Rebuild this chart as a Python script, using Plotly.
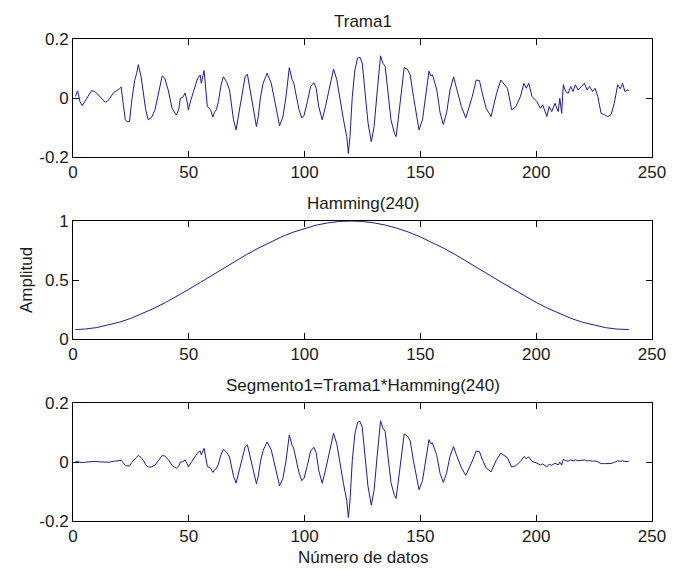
import plotly.graph_objects as go

# ---------------- data ----------------
trama_x = [1, 2, 3, 4, 5.5, 8, 9.5, 11.5, 14, 15.5, 17.5, 20, 20.8, 21.5, 22.6, 23.3, 24.4, 25.4, 26.6, 27.5,
           28.2, 29.4, 30.4, 31.4, 32.5, 34, 35.4, 36.8, 38.5, 39.6, 41.1, 42.8, 44.6, 45.6, 46.4, 47.4, 48.4, 49.3, 49.8, 50.9,
           52.3, 53.8, 54.9, 55.4, 56.6, 57.3, 58, 59.4, 60.4, 61.1, 61.9, 62.8, 63.8, 64.9, 66.3, 67.6, 68.6, 69.3, 70.4, 71.4,
           72.9, 74.3, 75.3, 76.4, 77.8, 79.2, 80, 80.9, 82.1, 83.8, 85.6, 87, 89.2, 90.6, 91.9, 93.4, 94.6, 95.2, 96.2, 97.6,
           98.8, 99.8, 101.2, 102.6, 104, 105, 106.1, 107.6, 109, 110.4, 112.5, 113.9, 115.3, 116.8, 118.2, 118.9, 119.6, 120.6, 121.7, 122.9,
           123.9, 124.9, 126, 127.4, 128.8, 130, 131.4, 132.4, 132.8, 133.8, 134.8, 135.9, 137.3, 138.8, 139.5, 140.4, 141.6, 143, 144.4, 145.6,
           147, 148.7, 149.4, 150.9, 152.3, 153.7, 154.5, 155.2, 157.1, 158.5, 159.9, 161.3, 162.8, 164.3, 165.6, 167.7, 169.6, 171, 172.4, 174.1,
           175.5, 176.9, 178.4, 180.5, 181.9, 182.9, 184.7, 186.1, 187.6, 189.4, 191.1, 193.2, 194.7, 195.7, 196.8, 198.2, 200.3, 201.8, 202.8, 204.6,
           205.6, 206.7, 208.1, 209.5, 210.2, 211, 211.7, 212.7, 213.8, 214.9, 215.9, 216.9, 218.1, 219.5, 220.8, 222, 223, 224.4, 225.4, 226.6,
           228, 229.5, 230.9, 232.3, 233.7, 235.2, 236.3, 237.3, 238.3, 239.4, 240]

trama_y = [0.005, 0.024, -0.012, -0.026, -0.007, 0.025, 0.022, 0.005, -0.015, -0.006, 0.018, 0.031, 0.037, -0.008, -0.074, -0.080, -0.080, -0.007, 0.059, 0.084,
           0.113, 0.072, 0.022, -0.040, -0.074, -0.065, -0.040, 0.016, 0.075, 0.067, 0.027, -0.035, -0.058, -0.040, 0.000, 0.002, 0.017, -0.012, -0.040, -0.007,
           0.027, 0.067, 0.078, 0.050, 0.093, 0.039, -0.029, -0.040, -0.065, -0.048, -0.040, -0.012, 0.039, 0.072, 0.055, 0.027, -0.035, -0.074, -0.108, -0.058,
           0.009, 0.072, 0.081, 0.031, -0.040, -0.097, -0.063, 0.000, 0.050, 0.084, 0.050, -0.007, -0.094, -0.065, 0.000, 0.103, 0.062, 0.055, 0.016, -0.040,
           -0.068, -0.058, -0.012, 0.039, 0.052, 0.033, -0.029, -0.074, -0.029, 0.027, 0.098, 0.062, -0.007, -0.074, -0.131, -0.188, -0.131, 0.005, 0.095, 0.135,
           0.138, 0.118, 0.027, -0.085, -0.148, -0.097, 0.027, 0.118, 0.143, 0.118, 0.107, 0.027, -0.074, -0.120, -0.131, -0.074, 0.016, 0.103, 0.097, 0.079,
           0.005, -0.080, -0.108, -0.074, 0.016, 0.091, 0.075, 0.079, 0.027, -0.050, -0.090, -0.050, 0.027, 0.072, 0.033, -0.029, -0.068, -0.035, 0.005, 0.061,
           0.059, 0.010, -0.035, -0.063, -0.012, 0.016, 0.061, 0.048, 0.033, -0.040, -0.031, 0.005, 0.050, 0.033, 0.050, 0.005, -0.012, -0.035, -0.023, -0.063,
           -0.029, -0.046, -0.018, -0.046, -0.001, -0.052, 0.045, 0.022, 0.016, 0.039, 0.022, 0.045, 0.027, 0.039, 0.050, 0.027, 0.039, 0.022, 0.033, 0.005,
           -0.052, -0.057, -0.063, -0.057, -0.018, 0.045, 0.031, 0.050, 0.022, 0.027, 0.025]

hamming_x = [1, 5, 10, 15, 20, 25, 30, 35, 40, 45, 50, 55, 60, 65, 70, 75, 80, 85, 90, 95, 100, 105, 110, 115, 120,
             125, 130, 135, 140, 145, 150, 155, 160, 165, 170, 175, 180, 185, 190, 195, 200, 205, 210, 215, 220, 225, 230, 235, 240]
hamming_y = [0.080, 0.084, 0.096, 0.117, 0.142, 0.175, 0.215, 0.260, 0.310, 0.364, 0.421, 0.480, 0.540, 0.600, 0.659, 0.716,
             0.770, 0.820, 0.865, 0.905, 0.938, 0.965, 0.984, 0.996, 1.000,
             0.996, 0.984, 0.965, 0.938, 0.905, 0.865, 0.820, 0.770, 0.716, 0.659, 0.600, 0.540, 0.480, 0.421, 0.364,
             0.310, 0.260, 0.215, 0.175, 0.142, 0.117, 0.096, 0.084, 0.080]

segmento_x = trama_x
segmento_y = [0.0004, 0.0019, -0.0010, -0.0021, -0.0006, 0.0023, 0.0021, 0.0005, -0.0017, -0.0007, 0.0023, 0.0044, 0.0054, -0.0012, -0.0117, -0.0130, -0.0137, -0.0012, 0.0110, 0.0163,
              0.0226, 0.0151, 0.0048, -0.0091, -0.0175, -0.0163, -0.0106, 0.0044, 0.0220, 0.0205, 0.0087, -0.0119, -0.0209, -0.0148, 0.0000, 0.0008, 0.0068, -0.0050, -0.0168, -0.0030,
              0.0121, 0.0312, 0.0374, 0.0243, 0.0464, 0.0198, -0.0150, -0.0213, -0.0354, -0.0265, -0.0225, -0.0069, 0.0229, 0.0431, 0.0338, 0.0170, -0.0225, -0.0482, -0.0717, -0.0392,
              0.0062, 0.0510, 0.0582, 0.0227, -0.0299, -0.0739, -0.0485, 0.0000, 0.0396, 0.0680, 0.0413, -0.0059, -0.0807, -0.0566, 0.0000, 0.0920, 0.0559, 0.0498, 0.0146, -0.0369,
              -0.0633, -0.0543, -0.0113, 0.0372, 0.0499, 0.0318, -0.0281, -0.0722, -0.0284, 0.0266, 0.0971, 0.0616, -0.0070, -0.0739, -0.1309, -0.1880, -0.1310, 0.0050, 0.0950, 0.1349,
              0.1377, 0.1176, 0.0268, -0.0842, -0.1462, -0.0954, 0.0265, 0.1152, 0.1394, 0.1145, 0.1034, 0.0259, -0.0706, -0.1134, -0.1233, -0.0693, 0.0148, 0.0947, 0.0882, 0.0711,
              0.0045, -0.0701, -0.0940, -0.0635, 0.0135, 0.0757, 0.0619, 0.0646, 0.0216, -0.0393, -0.0694, -0.0378, 0.0200, 0.0521, 0.0234, -0.0199, -0.0452, -0.0226, 0.0032, 0.0373,
              0.0350, 0.0058, -0.0196, -0.0336, -0.0062, 0.0081, 0.0295, 0.0224, 0.0148, -0.0171, -0.0126, 0.0019, 0.0184, 0.0117, 0.0172, 0.0016, -0.0037, -0.0102, -0.0065, -0.0166,
              -0.0074, -0.0112, -0.0042, -0.0101, -0.0002, -0.0107, 0.0090, 0.0042, 0.0029, 0.0069, 0.0037, 0.0072, 0.0042, 0.0057, 0.0069, 0.0035, 0.0049, 0.0026, 0.0037, 0.0005,
              -0.0054, -0.0055, -0.0059, -0.0051, -0.0015, 0.0038, 0.0026, 0.0041, 0.0018, 0.0022, 0.0020]

titles = ["Trama1", "Hamming(240)", "Segmento1=Trama1*Hamming(240)"]
x_ticks = [0, 50, 100, 150, 200, 250]
y_ticks_signal = [-0.2, 0, 0.2]
y_ticks_signal_text = ["-0.2", "0", "0.2"]
y_ticks_window = [0, 0.5, 1]
y_ticks_window_text = ["0", "0.5", "1"]
x_label = "Número de datos"
y_label = "Amplitud"

# ---------------- figure ----------------
LINE = "#1c1c9a"
FONT = "Liberation Sans, Arial, sans-serif"
FS = 17
TXT = "#1a1a1a"

fig = go.Figure()
fig.add_trace(go.Scatter(x=trama_x, y=trama_y, mode="lines", line=dict(color=LINE, width=1), xaxis="x", yaxis="y"))
fig.add_trace(go.Scatter(x=hamming_x, y=hamming_y, mode="lines", line=dict(color=LINE, width=1), xaxis="x2", yaxis="y2"))
fig.add_trace(go.Scatter(x=segmento_x, y=segmento_y, mode="lines", line=dict(color=LINE, width=1), xaxis="x3", yaxis="y3"))

domains = [[0.7552, 1.0], [0.3776, 0.6224], [0.0, 0.2448]]

axcommon = dict(showline=True, linecolor="black", linewidth=1, mirror="ticks", ticks="inside",
                ticklen=6, tickcolor="black", tickwidth=1, showgrid=False, zeroline=False,
                tickfont=dict(family=FONT, size=FS, color=TXT))

layout = dict(
    width=678, height=570,
    margin=dict(l=73, r=16, t=39, b=49),
    paper_bgcolor="white", plot_bgcolor="white",
    showlegend=False,
)
for i in range(3):
    sx = "" if i == 0 else str(i + 1)
    layout["xaxis" + sx] = dict(axcommon, domain=[0, 1], range=[0, 250], tickvals=x_ticks,
                                anchor="y" + sx)
    if i == 1:
        yt, ytt, yr = y_ticks_window, y_ticks_window_text, [0, 1]
    else:
        yt, ytt, yr = y_ticks_signal, y_ticks_signal_text, [-0.2, 0.2]
    layout["yaxis" + sx] = dict(axcommon, domain=domains[i], range=yr, tickvals=yt, ticktext=ytt,
                                anchor="x" + sx)
fig.update_layout(**layout)

ann = []
for i, t in enumerate(titles):
    ann.append(dict(text=t, x=0.5, y=domains[i][1], xref="paper", yref="paper",
                    xanchor="center", yanchor="bottom", yshift=6, showarrow=False,
                    font=dict(family=FONT, size=FS, color=TXT)))
ann.append(dict(text=x_label, x=0.5, y=0, xref="paper", yref="paper", xanchor="center",
                yanchor="top", yshift=-25, showarrow=False, font=dict(family=FONT, size=FS, color=TXT)))
ann.append(dict(text=y_label, x=0, y=0.5, xref="paper", yref="paper", xanchor="center",
                yanchor="middle", xshift=-47, textangle=-90, showarrow=False,
                font=dict(family=FONT, size=FS, color=TXT)))
fig.update_layout(annotations=ann)

fig.write_html("out.html")
